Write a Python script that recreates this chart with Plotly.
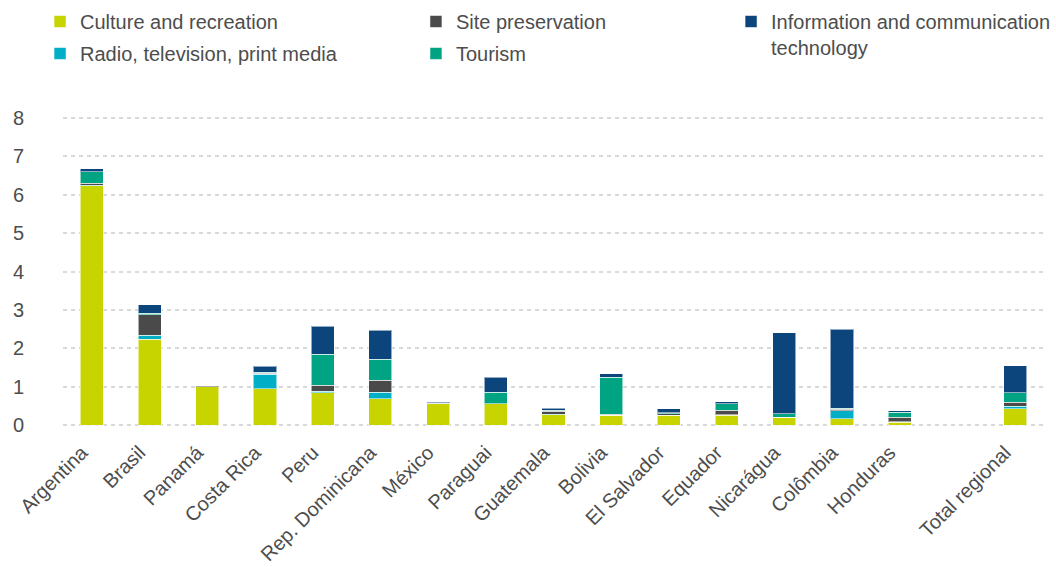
import plotly.graph_objects as go

# Spending by country and category
countries = ["Argentina", "Brasil", "Panamá", "Costa Rica", "Peru", "Rep. Dominicana",
             "México", "Paraguai", "Guatemala", "Bolivia", "El Salvador", "Equador",
             "Nicarágua", "Colômbia", "Honduras", "Total regional"]
culture = [6.23, 2.24, 1.00, 0.95, 0.84, 0.69, 0.56, 0.55, 0.27, 0.25, 0.25, 0.25, 0.20, 0.16, 0.08, 0.42]
radio = [0.02, 0.10, 0.00, 0.37, 0.04, 0.17, 0.00, 0.00, 0.01, 0.00, 0.01, 0.02, 0.01, 0.21, 0.01, 0.07]
site = [0.05, 0.53, 0.02, 0.03, 0.16, 0.31, 0.01, 0.00, 0.08, 0.03, 0.04, 0.12, 0.00, 0.04, 0.12, 0.10]
tourism = [0.30, 0.04, 0.00, 0.03, 0.81, 0.54, 0.00, 0.30, 0.03, 0.96, 0.02, 0.16, 0.08, 0.03, 0.13, 0.25]
ict = [0.07, 0.23, 0.00, 0.15, 0.73, 0.76, 0.03, 0.39, 0.05, 0.10, 0.10, 0.06, 2.12, 2.05, 0.03, 0.70]
y_ticks = [0, 1, 2, 3, 4, 5, 6, 7, 8]


def with_gap(vals, filler=None):
    # empty slot between the countries and the regional total
    return vals[:-1] + [filler] + vals[-1:]


x = with_gap(countries, " ")

series = [
    ("Culture and recreation", culture, "#C8D400", "legend", 1),
    ("Radio, television, print media", radio, "#00AEC6", "legend", 2),
    ("Site preservation", site, "#4A4A4A", "legend2", 1),
    ("Tourism", tourism, "#00A482", "legend2", 2),
    ("Information and communication<br>technology", ict, "#0C457C", "legend3", 1),
]

FONT = "Liberation Sans, Arial, sans-serif"
TXT = "#4d4d4d"

fig = go.Figure()
for name, vals, color, leg, rank in series:
    fig.add_trace(go.Bar(
        x=x, y=with_gap(vals), name=name,
        marker=dict(color=color, line=dict(color="rgba(255,255,255,0.55)", width=1)),
        width=0.4, legend=leg, legendrank=rank, legendgroup=name,
    ))

leg_common = dict(orientation="v", xref="paper", yref="paper", xanchor="left",
                  yanchor="top", font=dict(family=FONT, size=20, color=TXT),
                  bgcolor="rgba(0,0,0,0)", tracegroupgap=3, itemwidth=30)

fig.update_layout(
    barmode="stack",
    width=1056, height=567,
    margin=dict(l=63, r=12, t=116, b=140, autoexpand=False),
    plot_bgcolor="white", paper_bgcolor="white",
    font=dict(family=FONT, size=20, color=TXT),
    legend=dict(x=-0.0234, y=1.3666, **leg_common),
    legend2=dict(x=0.3598, y=1.3666, **leg_common),
    legend3=dict(x=0.681, y=1.3666, valign="top", **leg_common),
    xaxis=dict(type="category", tickangle=-45, showgrid=False, showline=False,
               ticks="", automargin=False, ticklabelshift=-10, ticklabelstandoff=9,
               tickfont=dict(family=FONT, size=20, color=TXT)),
    yaxis=dict(range=[-0.05, 8.05], tickvals=y_ticks, showgrid=True,
               gridcolor="#d9d9d9", gridwidth=2, griddash="4px,4px",
               zeroline=False, showline=False, ticks="", ticklabelstandoff=38,
               automargin=False, tickfont=dict(family=FONT, size=20, color=TXT)),
)

# drop the page's default body margin so the figure sits at the window corner
fig.write_html("out.html", config={"displayModeBar": False},
               post_script="document.body.style.margin='0';")
